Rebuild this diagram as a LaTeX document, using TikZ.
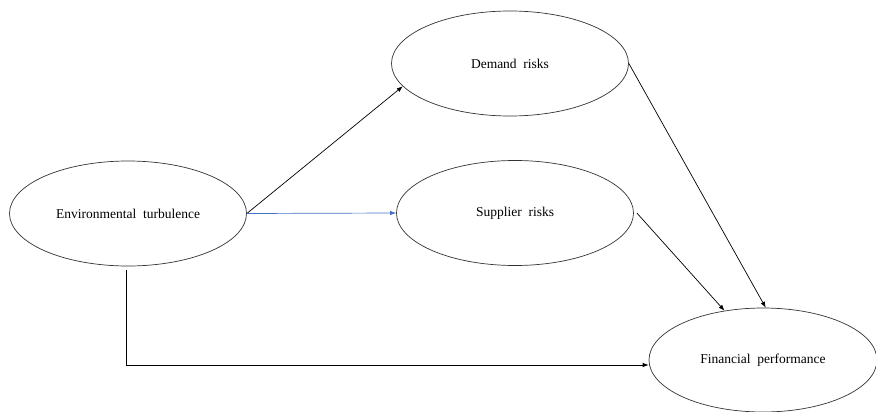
\documentclass[tikz,border=0pt]{standalone}
\usepackage{fontspec}
\setmainfont{Liberation Serif}
\usetikzlibrary{shapes.geometric,arrows.meta}
\definecolor{arrowblue}{HTML}{4472C4}
\begin{document}
\begin{tikzpicture}[x=1pt,y=-1pt,
  var/.style={draw=black!80,line width=0.7pt,ellipse,minimum width=237pt,minimum height=105pt,inner sep=0pt,font=\fontsize{13.5pt}{15pt}\selectfont},
  link/.style={draw=black,line width=0.7pt,-{Latex[length=6pt,width=4.5pt]}}]
\useasboundingbox (0,0) rectangle (876,412);
\node[var] (env) at (128,213.5) {Environmental\ \ turbulence};
\node[var] (dem) at (510,63.5) {Demand\ \ risks};
\node[var] (sup) at (515,213) {Supplier\ \ risks};
\node[var,minimum width=228pt,minimum height=104pt] (fin) at (763,360) {Financial\ \ performance};
\coordinate (corner) at (126,365);
\draw[link] (env.east) -- (dem.192);
\draw[link,draw=arrowblue] (env.east) -- (sup.west);
\draw[link] (dem.east) -- (fin.87);
\draw[link] ([xshift=3pt]sup.east) -- (fin.128);
\draw[link] ([xshift=-2pt,yshift=-4pt]env.south) -- (corner) -- (fin.west |- corner);
\end{tikzpicture}
\end{document}
